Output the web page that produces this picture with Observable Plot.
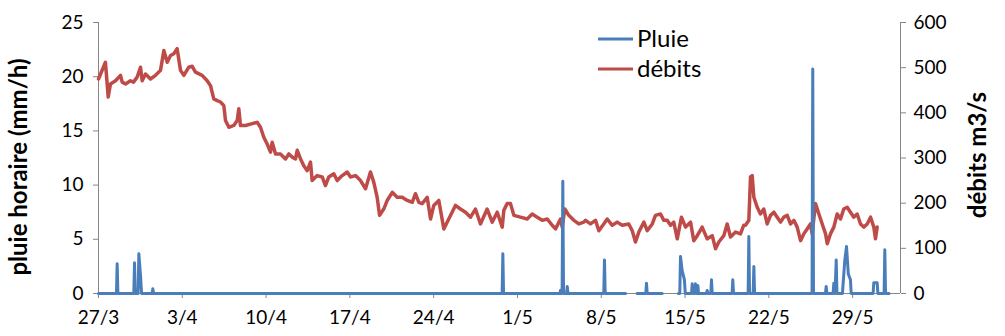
<!DOCTYPE html>
<html>
<head>
<meta charset="utf-8">
<script src="https://cdn.jsdelivr.net/npm/d3@7"></script>
<script src="https://cdn.jsdelivr.net/npm/@observablehq/plot@0.6"></script>
<style>
  html, body { margin: 0; padding: 0; background: #fff; }
  #chart svg { display: block; }
</style>
</head>
<body>
<div id="chart"></div>
<script>
// Hourly rain (mm/h) and river discharge (m3/s), 27 March – 2 June.
// Times are given in days since 27 March 00:00.

const startDate = Date.UTC(2013, 2, 27);
const endDay = 67; // 2 June

// Rain gauge: null marks missing records
const rainDays = [
  0, 1.50, 1.56, 1.62, 2.95, 3.01, 3.07, 3.31, 3.37, 3.51, 3.60, 4.48, 4.54, 4.60,
  33.72, 33.78, 33.84, 38.55, 38.60, 38.66, 38.73, 38.79, 38.85, 39.10, 39.16, 39.22,
  42.21, 42.27, 42.33, 44.03, 44.04, 45.00, 45.72, 45.78, 45.84, 47.09, 47.10,
  48.45, 48.56, 48.62, 48.76, 48.95, 49.02, 49.54, 49.60, 49.66, 49.81, 49.87, 49.93,
  50.01, 50.07, 50.13, 50.79, 50.85, 50.91, 51.15, 51.21, 51.27, 52.93, 52.99, 53.05,
  54.27, 54.33, 54.39, 54.69, 54.75, 54.81, 59.61, 59.67, 59.73, 60.73, 60.79, 60.85,
  61.37, 61.43, 61.53, 61.63, 61.69, 62.15, 62.21, 62.35, 62.49, 62.64, 62.82, 62.88,
  64.71, 64.77, 65.05, 65.11, 65.63, 65.69, 65.75, 66.04
];
const rainMm = [
  0, 0, 2.74, 0, 0, 2.83, 0, 0, 3.66, 1.66, 0, 0, 0.43, 0,
  0, 3.66, 0, 0, 0.3, 0, 0, 10.36, 0, 0, 0.65, 0,
  0, 3.10, 0, 0, null, 0, 0, 0.95, 0, 0, null,
  0, 0, 3.41, 2.10, 1.26, 0, 0, 0.9, 0, 0, 0.9, 0,
  0, 0.74, 0, 0, 0.28, 0, 0, 1.26, 0, 0, 1.26, 0,
  0, 5.26, 0, 0, 2.49, 0, 0, 20.7, 0, 0, 0.65, 0,
  0, 0.95, 0, 3.10, 0, 0, 0.95, 3.10, 4.34, 1.8, 1.26, 0,
  0, 1.0, 1.0, 0, 0, 4.03, 0, 0
];

// Discharge at the gauging station
const flowDays = [
  0, 0.58, 0.81, 1.00, 1.42, 1.84, 1.98, 2.26, 2.67, 2.92, 3.23, 3.51, 3.65, 3.93,
  4.34, 4.76, 5.18, 5.46, 5.74, 6.02, 6.29, 6.57, 6.85, 7.13, 7.54, 7.83, 8.10, 8.66,
  9.08, 9.36, 9.63, 9.92, 10.19, 10.47, 10.61, 10.89, 11.30, 11.59, 11.72, 11.86, 12.28,
  12.84, 13.26, 13.53, 13.81, 14.09, 14.37, 14.51, 14.79, 15.20, 15.62, 15.90, 16.18,
  16.46, 16.60, 16.88, 17.15, 17.44, 17.71, 17.85, 18.27, 18.69, 18.96, 19.24, 19.66,
  19.94, 20.36, 20.78, 21.05, 21.47, 21.89, 22.31, 22.72, 23.00, 23.28, 23.48, 23.83,
  24.12, 24.54, 24.95, 25.37, 25.79, 26.21, 26.48, 26.76, 27.04, 27.46, 27.74, 28.01,
  28.43, 28.85, 29.26, 29.82, 30.24, 30.66, 31.08, 31.49, 31.91, 32.47, 32.89, 33.31,
  33.73, 33.86, 34.14, 34.42, 34.70, 35.25, 35.81, 36.23, 36.65, 37.07, 37.49, 37.90,
  38.18, 38.60, 38.74, 38.96, 39.29, 39.71, 40.13, 40.54, 40.69, 41.10, 41.52, 41.80,
  42.21, 42.50, 42.92, 43.33, 43.75, 44.30, 44.59, 44.86, 45.14, 45.56, 45.84, 46.26,
  46.53, 46.95, 47.23, 47.51, 47.79, 48.06, 48.35, 48.70, 49.04, 49.46, 49.73, 50.02,
  50.43, 50.85, 51.27, 51.55, 51.82, 52.24, 52.52, 52.80, 53.22, 53.63, 53.90, 54.05,
  54.33, 54.47, 54.61, 54.75, 55.03, 55.30, 55.58, 55.86, 56.14, 56.42, 56.70, 56.98,
  57.25, 57.54, 57.81, 58.09, 58.37, 58.65, 58.92, 59.20, 59.48, 59.62, 59.90, 60.18,
  60.46, 60.74, 60.88, 61.15, 61.43, 61.71, 61.99, 62.26, 62.55, 62.82, 63.10, 63.38,
  63.66, 63.93, 64.22, 64.50, 64.77, 64.91, 65.05
];
const flowM3s = [
  475, 512, 435, 464, 471, 483, 468, 464, 471, 468, 479, 501, 471, 486,
  475, 483, 494, 538, 512, 527, 531, 542, 494, 483, 501, 503, 490, 483,
  471, 460, 431, 427, 424, 416, 383, 368, 372, 383, 409, 372, 372,
  376, 379, 368, 346, 331, 313, 335, 309, 309, 298, 309, 302,
  298, 317, 298, 283, 272, 291, 250, 261, 258, 239, 258, 265,
  250, 261, 269, 258, 261, 250, 232, 269, 246, 213, 173, 187,
  206, 224, 213, 213, 206, 202, 221, 202, 199, 213, 165, 195,
  206, 143, 165, 195, 187, 180, 169, 187, 154, 187, 158, 180,
  147, 184, 199, 199, 173, 169, 165, 176, 169, 162, 165, 151,
  143, 165, 147, 187, 173, 162, 154, 158, 162, 154, 162, 139,
  154, 165, 151, 158, 151, 154, 139, 114, 136, 158, 139, 154,
  173, 176, 162, 162, 151, 158, 121, 169, 147, 158, 117, 128,
  147, 121, 128, 99, 114, 128, 154, 125, 136, 132, 151, 151,
  162, 258, 261, 213, 191, 176, 187, 154, 173, 180, 169, 158,
  169, 173, 154, 162, 147, 117, 132, 143, 154, 132, 199, 176,
  154, 132, 110, 132, 147, 176, 165, 187, 191, 180, 169, 176,
  154, 147, 154, 169, 147, 121, 147
];

// Axes
const rainTicks = [0, 5, 10, 15, 20, 25];
const flowTicks = [0, 100, 200, 300, 400, 500, 600];
const xTickLabels = ["27/3", "3/4", "10/4", "17/4", "24/4", "1/5", "8/5", "15/5", "22/5", "29/5"];

const seriesNames = ["Pluie", "débits"];
const seriesColors = ["#4A7EBB", "#BE4B48"];
const axisColor = "#868686";
const fontFamily = "Lato, 'Open Sans', sans-serif";

// discharge is drawn on the right-hand axis: 600 m3/s ↔ 25 mm/h
const flowPerMm = flowTicks[flowTicks.length - 1] / rainTicks[rainTicks.length - 1];

const toDate = d => new Date(startDate + d * 864e5);
const rain = rainDays.map((d, i) => ({t: toDate(d), v: rainMm[i]}));
const flow = flowDays.map((d, i) => ({t: toDate(d), v: flowM3s[i] / flowPerMm}));
const weekTicks = xTickLabels.map((_, i) => toDate(7 * i));

const chart = Plot.plot({
  width: 1005,
  height: 336,
  marginLeft: 98,
  marginRight: 105,
  marginTop: 22,
  marginBottom: 43,
  style: {fontFamily, fontSize: "19px", color: "#000", background: "#fff"},
  x: {type: "utc", domain: [toDate(0), toDate(endDay)]},
  y: {domain: [0, 25]},
  marks: [
    Plot.ruleX([toDate(0), toDate(endDay)], {stroke: axisColor, strokeWidth: 1}),
    Plot.ruleY([0], {stroke: axisColor, strokeWidth: 1}),
    Plot.axisY({
      anchor: "left", ticks: rainTicks, tickSize: 5, tickPadding: 10,
      stroke: axisColor, fill: "#000", label: null, fontSize: 19
    }),
    Plot.axisY({
      anchor: "right", ticks: flowTicks.map(v => v / flowPerMm), tickSize: 5, tickPadding: 8,
      tickFormat: v => Math.round(v * flowPerMm), stroke: axisColor, fill: "#000",
      label: null, fontSize: 19
    }),
    Plot.axisX({
      ticks: weekTicks, tickSize: 5, tickPadding: 12,
      tickFormat: (d, i) => xTickLabels[i], stroke: axisColor, fill: "#000",
      label: null, fontSize: 19
    }),
    Plot.line(flow, {x: "t", y: "v", stroke: seriesColors[1], strokeWidth: 3.5, strokeLinejoin: "round"}),
    Plot.line(rain, {x: "t", y: "v", stroke: seriesColors[0], strokeWidth: 3, strokeLinejoin: "round"})
  ]
});

document.getElementById("chart").appendChild(chart);

// Axis titles and legend
const svg = d3.select(chart);
const titleStyle = s => s
  .attr("font-family", fontFamily)
  .attr("font-weight", "bold")
  .attr("font-size", 24)
  .attr("text-anchor", "middle")
  .attr("fill", "#000");

svg.append("text")
  .call(titleStyle)
  .attr("transform", "translate(34,167) rotate(-90)")
  .attr("dy", "-0.3em")
  .text("pluie horaire (mm/h)");

svg.append("text")
  .call(titleStyle)
  .attr("transform", "translate(978,155) rotate(-90)")
  .attr("dy", "0.35em")
  .text("débits m3/s");

const legend = svg.append("g")
  .attr("font-family", fontFamily)
  .attr("font-size", 24)
  .attr("text-anchor", "start");
seriesNames.forEach((name, i) => {
  const y = 39 + 30 * i;
  legend.append("line")
    .attr("x1", 598).attr("x2", 633).attr("y1", y).attr("y2", y)
    .attr("stroke", seriesColors[i]).attr("stroke-width", 3);
  legend.append("text")
    .attr("x", 637).attr("y", y).attr("dy", "0.35em")
    .attr("fill", "#000")
    .text(name);
});
</script>
</body>
</html>
